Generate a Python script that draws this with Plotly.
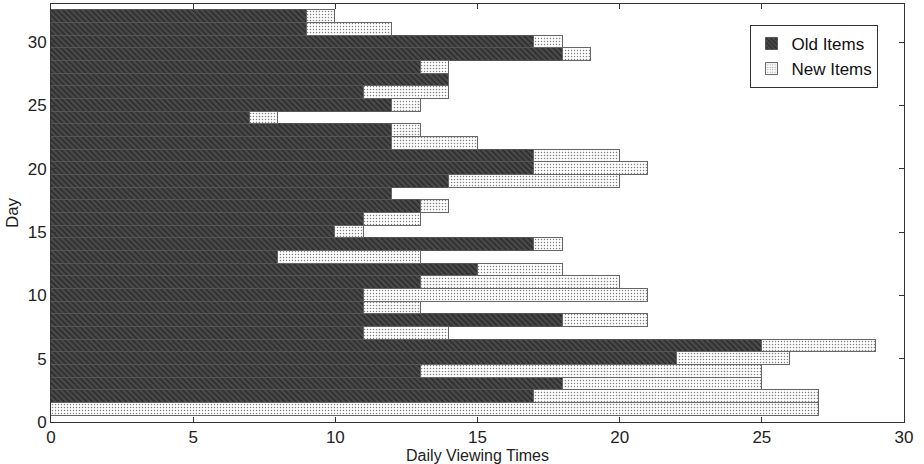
import plotly.graph_objects as go

days = list(range(1, 33))
old_items = [0, 17, 18, 13, 22, 25, 11, 18, 11, 11, 13, 15, 8, 17, 10, 11,
             13, 12, 14, 17, 17, 12, 12, 7, 12, 11, 14, 13, 18, 17, 9, 9]
new_items = [27, 10, 7, 12, 4, 4, 3, 3, 2, 10, 7, 3, 5, 1, 1, 2,
             1, 0, 6, 4, 3, 3, 1, 1, 1, 3, 0, 1, 1, 1, 3, 1]
x_ticks = [0, 5, 10, 15, 20, 25, 30]
y_ticks = [0, 5, 10, 15, 20, 25, 30]

font = "Liberation Sans, Arial, sans-serif"

fig = go.Figure()
fig.add_trace(go.Bar(
    y=days, x=old_items, orientation="h", name="Old Items", width=1,
    marker=dict(color="#3a3a3a",
                line=dict(color="#555555", width=1),
                pattern=dict(shape="\\", fgcolor="#111111", bgcolor="#4a4a4a",
                             size=4, solidity=0.45)),
))
fig.add_trace(go.Bar(
    y=days, x=new_items, orientation="h", name="New Items", width=1,
    marker=dict(color="white",
                line=dict(color="#666666", width=1),
                pattern=dict(shape=".", fgcolor="#000000", bgcolor="#ffffff",
                             size=3, solidity=0.2)),
))

fig.update_layout(
    width=924, height=464,
    margin=dict(l=51, r=20, t=4, b=42, autoexpand=False),
    barmode="stack", bargap=0,
    plot_bgcolor="white", paper_bgcolor="white",
    font=dict(family=font, size=17, color="#222222"),
    showlegend=True,
    legend=dict(x=0.82, y=0.95, xanchor="left", yanchor="top",
                traceorder="normal", bordercolor="#333333", borderwidth=1,
                bgcolor="white", font=dict(size=17, color="#111111"),
                itemwidth=30, tracegroupgap=0),
)
fig.update_xaxes(
    range=[0, 30], tickvals=x_ticks, ticks="inside", ticklen=5,
    tickcolor="#333333", showline=True, linecolor="#333333", linewidth=1,
    mirror="ticks", showgrid=False, zeroline=False,
    title=dict(text="Daily Viewing Times", standoff=4, font=dict(size=16)),
    tickfont=dict(size=17),
)
fig.update_yaxes(
    range=[0, 33], tickvals=y_ticks, ticks="inside", ticklen=5,
    tickcolor="#333333", showline=True, linecolor="#333333", linewidth=1,
    mirror="ticks", showgrid=False, zeroline=False,
    title=dict(text="Day", standoff=4, font=dict(size=17)),
    tickfont=dict(size=17),
)

fig.write_html("out.html")
